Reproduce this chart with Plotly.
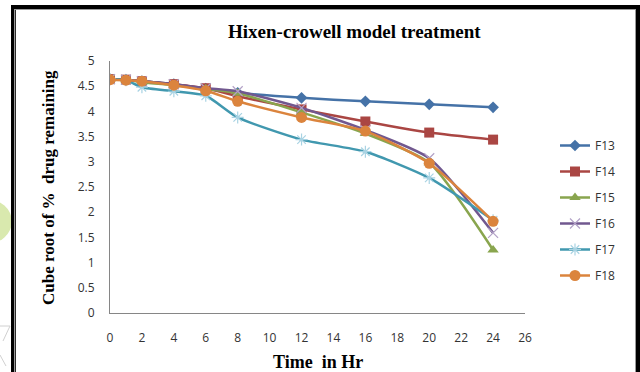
import plotly.graph_objects as go

time_hr = [0, 1, 2, 4, 6, 8, 12, 16, 20, 24]
f13 = [4.64, 4.63, 4.60, 4.54, 4.45, 4.37, 4.27, 4.20, 4.14, 4.08]
f14 = [4.64, 4.63, 4.60, 4.54, 4.46, 4.30, 4.04, 3.80, 3.58, 3.44]
f15 = [4.64, 4.63, 4.58, 4.52, 4.45, 4.36, 3.98, 3.56, 2.98, 1.25]
f16 = [4.64, 4.63, 4.60, 4.54, 4.46, 4.40, 4.07, 3.63, 3.07, 1.59]
f17 = [4.64, 4.62, 4.48, 4.40, 4.31, 3.88, 3.44, 3.20, 2.68, 1.84]
f18 = [4.63, 4.62, 4.60, 4.52, 4.41, 4.20, 3.88, 3.61, 2.97, 1.82]

series = [
    ("F13", f13, "#4572A7", "diamond", 9),
    ("F14", f14, "#AA4643", "square", 10),
    ("F15", f15, "#89A54E", "triangle-up", 10),
    ("F16", f16, "#71588F", "x-thin-open", 10),
    ("F17", f17, "#4198AF", "asterisk-open", 10),
    ("F18", f18, "#DB843D", "circle", 11),
]

fig = go.Figure()
for name, vals, col, sym, sz in series:
    marker = dict(symbol=sym, size=sz, color=col)
    if sym in ("x-thin-open", "asterisk-open"):
        mc = "#A9D3E3" if name == "F17" else "#B3A2C7"
        marker["line"] = dict(color=mc, width=1.2)
        marker["color"] = mc
    fig.add_trace(go.Scatter(
        x=time_hr, y=vals, name=name, mode="lines+markers", legendgroup=name,
        line=dict(color=col, width=2.5, shape="spline", smoothing=0.6),
        marker=marker,
    ))

W, H = 640, 372
PL, PR, PT, PB = 110, 525, 61, 313  # plot area in pixels


def px(x):
    return x / W


def py(y):
    return 1 - y / H


def rect(x0, y0, x1, y1, color, layer="above"):
    return dict(type="rect", xref="paper", yref="paper", x0=px(x0), x1=px(x1), y0=py(y1), y1=py(y0),
                fillcolor=color, line=dict(width=0), layer=layer)


shapes = [
    # pale green decoration at left edge
    dict(type="circle", xref="paper", yref="paper", x0=px(-40), x1=px(12), y0=py(244), y1=py(199),
         fillcolor="#D9E9AE", line=dict(width=0), layer="below"),
    # faint gray decoration bottom-left
    dict(type="path", xref="paper", yref="paper",
         path=f"M {px(0)},{py(326)} L {px(10)},{py(326)} L {px(3)},{py(341)}",
         line=dict(color="#D0D0D0", width=1)),
    dict(type="path", xref="paper", yref="paper",
         path=f"M {px(0)},{py(355)} L {px(6)},{py(366)}",
         line=dict(color="#D0D0D0", width=1)),
    # outer black frame
    rect(11, 5, 14, 372, "#000000"),
    rect(11, 5, 640, 9, "#000000"),
    rect(636, 5, 640, 372, "#000000"),
    # inner gray / dark thin lines
    rect(14, 9, 15, 372, "#9a9a9a"),
    rect(15, 9, 16, 372, "#2a2a2a"),
    rect(14, 9, 636, 10, "#9a9a9a"),
    rect(635, 9, 636, 372, "#9a9a9a"),
]

annotations = [
    dict(text="<b>Hixen-crowell model treatment</b>", xref="paper", yref="paper",
         x=px(354), y=py(31), xanchor="center", yanchor="middle", showarrow=False,
         font=dict(family="Liberation Serif", size=19, color="black")),
    dict(text="<b>Time  in Hr</b>", xref="paper", yref="paper",
         x=px(318), y=py(362), xanchor="center", yanchor="middle", showarrow=False,
         font=dict(family="Liberation Serif", size=18, color="black")),
    dict(text="<b>Cube root of %  drug remaining</b>", xref="paper", yref="paper",
         x=px(48), y=py(188), xanchor="center", yanchor="middle", showarrow=False, textangle=-90,
         font=dict(family="Liberation Serif", size=17, color="black")),
]

fig.update_layout(
    width=W, height=H,
    margin=dict(l=0, r=0, t=0, b=0, autoexpand=False),
    paper_bgcolor="white", plot_bgcolor="white",
    xaxis=dict(domain=[px(PL), px(PR)], range=[0, 26], tickmode="array", tickvals=list(range(0, 27, 2)),
               showgrid=False, zeroline=False, showline=True, linecolor="#868686", linewidth=1,
               ticks="", tickfont=dict(family="Open Sans", size=12, color="#333333"),
               ticklabelstandoff=14, automargin=False),
    yaxis=dict(domain=[py(PB), py(PT)], range=[0, 5], tickmode="array",
               tickvals=[0, 0.5, 1, 1.5, 2, 2.5, 3, 3.5, 4, 4.5, 5],
               ticktext=["0", "0.5", "1", "1.5", "2", "2.5", "3", "3.5", "4", "4.5", "5"],
               showgrid=False, zeroline=False, showline=True, linecolor="#868686", linewidth=1,
               ticks="", tickfont=dict(family="Open Sans", size=12, color="#333333"),
               ticklabelstandoff=12, automargin=False),
    legend=dict(x=px(555), y=py(131), xanchor="left", yanchor="top",
                font=dict(family="Open Sans", size=12, color="#333333"),
                tracegroupgap=7, itemwidth=30, bgcolor="rgba(0,0,0,0)"),
    shapes=shapes,
    annotations=annotations,
    showlegend=True,
)

fig.write_html("out.html")
